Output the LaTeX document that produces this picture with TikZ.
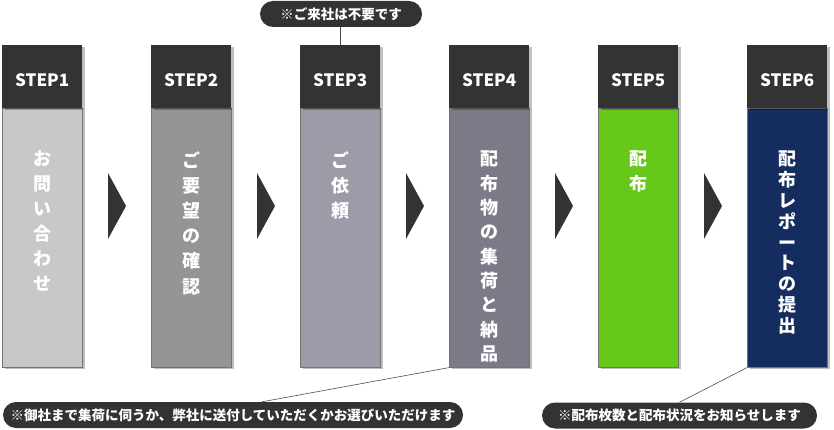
\documentclass[tikz,border=0pt]{standalone}
\usepackage{fontspec}
\setmainfont{Noto Sans CJK JP}
\usepackage{tikz}
\usetikzlibrary{
	positioning,									% 节点的高级摆放
	shadows,										% 阴影
	shapes.misc,									% 其他形状
}

\definecolor{headgray}{HTML}{333333}
\definecolor{stepa}{HTML}{C8C8C8}
\definecolor{stepb}{HTML}{959595}
\definecolor{stepc}{HTML}{9C9BA8}
\definecolor{stepd}{HTML}{7B7A87}
\definecolor{stepe}{HTML}{66C91A}
\definecolor{stepf}{HTML}{152C5E}

\begin{document}
\begin{tikzpicture}[x=1pt, y=-1pt,
		boxshadow/.style={drop shadow={shadow xshift=2.5pt, shadow yshift=-2pt, fill=black, opacity=.25}},
		headbox/.style={boxshadow, fill=headgray, anchor=north west, minimum width=80pt, minimum height=63pt, inner sep=0pt},
		bodybox/.style={boxshadow, draw=black!55, line width=.6pt, anchor=north west, minimum width=80pt, minimum height=259pt, inner sep=0pt},
		steplabel/.style={text=white, font=\fontsize{17}{17}\selectfont\bfseries, inner sep=0pt},
		steptext/.style={text=white, anchor=north, align=center, inner sep=0pt},
		note/.style={rounded rectangle, fill=headgray, text=white, font=\fontsize{13.5}{14}\selectfont\bfseries, minimum height=26pt, inner sep=0pt},
		link/.style={draw=black!70, line width=.6pt},
	]
	\useasboundingbox (0,0) rectangle (834,430);
	% 六个步骤
	\foreach \i/\xl/\col/\lsk/\txt in {
		1/2/stepa/25/{お\\問\\い\\合\\わ\\せ},
		2/151/stepb/25.2/{ご\\要\\望\\の\\確\\認},
		3/300/stepc/25/{ご\\依\\頼},
		4/449/stepd/24.3/{配\\布\\物\\の\\集\\荷\\と\\納\\品},
		5/598/stepe/25/{配\\布},
		6/747/stepf/20.8/{配\\布\\レ\\ポ\\ー\\ト\\の\\提\\出}} {
		\node[bodybox, fill=\col] (b\i) at (\xl,108) {};
		\node[headbox] (h\i) at (\xl,45) {};
		\node[steplabel] (l\i) at ([yshift=-3.5pt]h\i.center) {STEP\i};
		\node[steptext, font=\fontsize{18}{\lsk}\selectfont\bfseries] (t\i) at ([yshift=-43pt]b\i.north) {\txt};
	}
	% 箭头
	\foreach \xl in {2,151,300,449,598}
		\fill[headgray] (\xl+106,173) -- (\xl+124,206) -- (\xl+106,239) -- cycle;
	% 注释
	\node[note, minimum width=162pt] (n1) at (341,14) {※ご来社は不要です};
	\node[note, minimum width=460pt] (n2) at (233,415) {※御社まで集荷に伺うか、弊社に送付していただくかお選びいただけます};
	\node[note, minimum width=275pt] (n3) at (679.5,415.5) {※配布枚数と配布状況をお知らせします};
	\draw[link] (h3.north) -- (h3.north |- n1.south);
	\draw[link] (b4.south west) -- ([xshift=29pt]n2.north);
	\draw[link] (b6.south west) -- (n3.north);
\end{tikzpicture}
\end{document}
